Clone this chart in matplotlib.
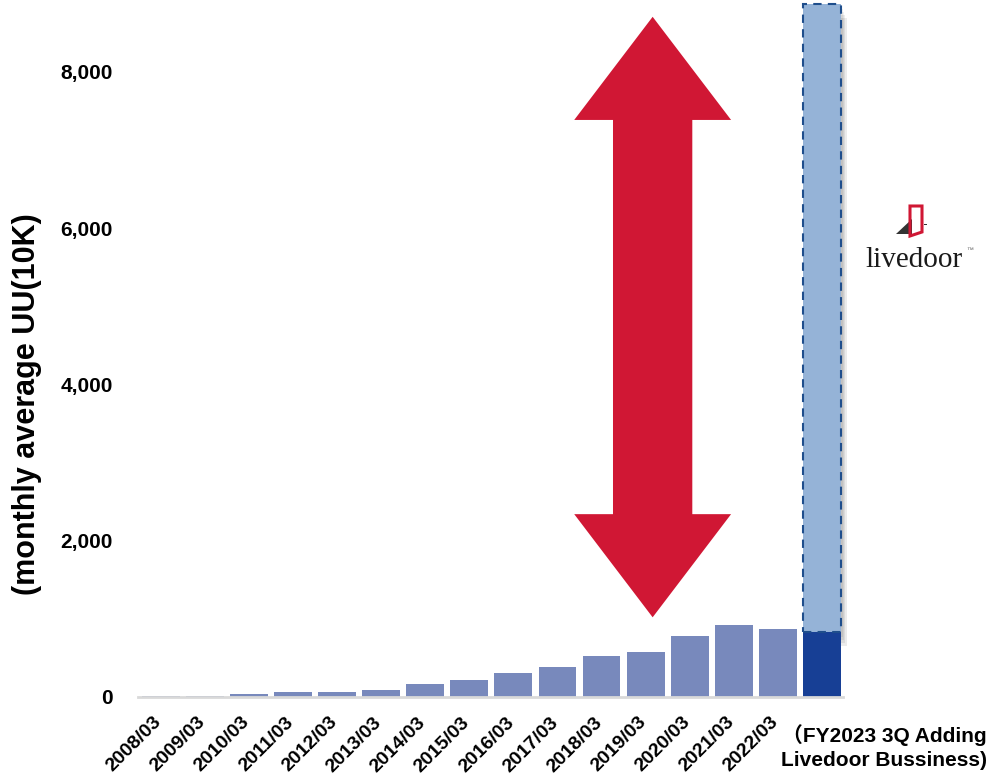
import matplotlib
matplotlib.use("Agg")
import matplotlib.pyplot as plt
from matplotlib.patches import Polygon, Rectangle
from matplotlib.ticker import FuncFormatter

plt.rcParams["font.family"] = ["Liberation Sans", "Noto Sans CJK JP"]
plt.rcParams["font.weight"] = "bold"

# data
periods = ["2008/03", "2009/03", "2010/03", "2011/03", "2012/03", "2013/03",
           "2014/03", "2015/03", "2016/03", "2017/03", "2018/03", "2019/03",
           "2020/03", "2021/03", "2022/03",
           "\uff08FY2023 3Q Adding\nLivedoor Bussiness)"]
uu = [10, 10, 35, 60, 62, 86, 162, 214, 307, 384, 521, 572, 781, 918, 866, 830]
livedoor_total = 8870

bar_color = "#7889bc"
last_color = "#173f95"
added_color = "#95b3d7"
red = "#d01734"

W, H = 991, 778
fig = plt.figure(figsize=(W / 100, H / 100), dpi=100)
ax = fig.add_axes([138 / W, 81 / H, 705 / W, 697 / H])

n = len(uu)
x = list(range(n))
colors = [bar_color] * (n - 1) + [last_color]
ax.bar(x, uu, width=0.86, color=colors, zorder=2)

# added livedoor part, dashed outline with soft shadow
base = uu[-1]
for k, a in enumerate([0.05, 0.06, 0.07, 0.08]):
    off = 0.04 + 0.03 * k
    ax.add_patch(Rectangle((n - 1 - 0.43 + off, base - 60 - 40 * k), 0.86,
                           livedoor_total - base, facecolor="black", alpha=a,
                           edgecolor="none", zorder=1.5, clip_on=False))
ax.add_patch(Rectangle((n - 1 - 0.43, base), 0.86, livedoor_total - base,
                       facecolor=added_color, edgecolor="#1f4e8c", lw=1.5,
                       ls=(0, (4, 3)), zorder=3, clip_on=False))

ax.set_xlim(-0.52, n - 0.52)
ax.set_ylim(0, 8920)
ax.set_yticks([0, 2000, 4000, 6000, 8000])
ax.yaxis.set_major_formatter(FuncFormatter(lambda v, p: f"{int(v):,}"))
ax.tick_params(axis="y", length=0, pad=18, labelsize=15)
# tick marks are hidden; nudge label anchors a little right of bar centres
ax.set_xticks([i + 0.09 for i in x[:-1]])
ax.set_xticklabels(periods[:-1], rotation=45, ha="right", va="top",
                   fontsize=14, fontweight="bold")
ax.tick_params(axis="x", length=0, pad=12)
ax.text(n - 1 + 1.42, -0.072, periods[-1], transform=ax.get_xaxis_transform(),
        ha="center", va="center", fontsize=15, fontweight="bold",
        linespacing=1.3)

for s in ["top", "right", "left"]:
    ax.spines[s].set_visible(False)
ax.spines["bottom"].set_color("#d9d9d9")
ax.spines["bottom"].set_linewidth(2)
ax.spines["bottom"].set_zorder(4)

ax.set_ylabel("(monthly average UU(10K)", fontsize=22, fontweight="bold")
ax.yaxis.set_label_coords(-0.136, 0.42)

# red double-headed arrow
cx, top, bottom = 11.16, 8705, 1020
hw, hl, sw = 1.78, 1320, 0.9
pts = [(cx, top), (cx + hw, top - hl), (cx + sw, top - hl),
       (cx + sw, bottom + hl), (cx + hw, bottom + hl), (cx, bottom),
       (cx - hw, bottom + hl), (cx - sw, bottom + hl), (cx - sw, top - hl),
       (cx - hw, top - hl)]
ax.add_patch(Polygon(pts, closed=True, facecolor=red, edgecolor="none",
                     zorder=5, clip_on=False))

# livedoor logo
def fp(px, py):
    return (px / W, 1 - py / H)

fig.text(*fp(865, 267), "livedoor", family="Liberation Serif",
         fontweight="normal", fontsize=21, color="#1a1a1a", ha="left",
         va="baseline")
fig.text(*fp(966, 252), "\u2122", fontsize=5, fontweight="normal",
         color="#666666")
fig.add_artist(Polygon([fp(896, 234), fp(912, 219), fp(912, 234)],
                       closed=True, transform=fig.transFigure,
                       facecolor="#333333", edgecolor="none"))
fig.add_artist(Polygon([fp(910, 206), fp(922, 206), fp(922, 232),
                        fp(910, 236)], closed=True, transform=fig.transFigure,
                       facecolor="none", edgecolor=red, lw=2.2))
fig.add_artist(Polygon([fp(924, 224), fp(927, 224), fp(927, 225),
                        fp(924, 225)], closed=True, transform=fig.transFigure,
                       facecolor="#333333", edgecolor="none"))

fig.savefig("out.png", dpi=100)
